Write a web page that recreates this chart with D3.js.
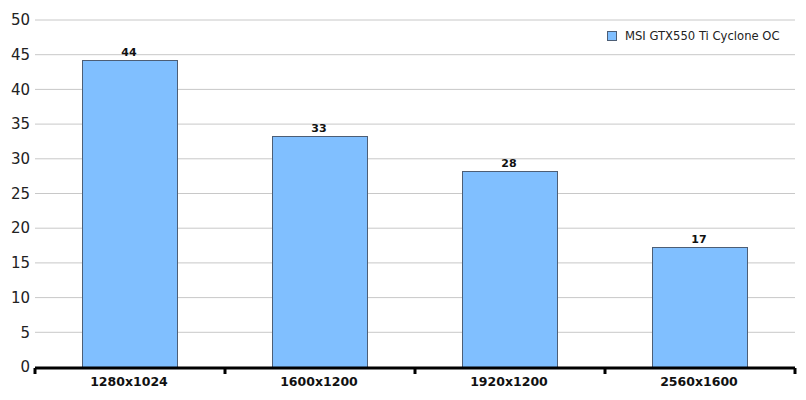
<!DOCTYPE html>
<meta charset="utf-8">
<head>
<script src="https://d3js.org/d3.v7.min.js"></script>
<style>
  body { margin: 0; background: #fff; }
  text { font-family: "DejaVu Sans", Verdana, sans-serif; }
</style>
</head>
<body>
<div id="chart"></div>
<script>
// chart data
var resolutions = ["1280x1024", "1600x1200", "1920x1200", "2560x1600"];
var fps = [44.2, 33.3, 28.2, 17.3];
var seriesName = "MSI GTX550 Ti Cyclone OC";
var yTicks = [0, 5, 10, 15, 20, 25, 30, 35, 40, 45, 50];

var W = 806, H = 400;
var margin = {top: 20, right: 11, bottom: 33, left: 35},
    width = W - margin.left - margin.right,
    height = H - margin.top - margin.bottom;

var svg = d3.select("#chart").append("svg")
    .attr("width", W).attr("height", H)
  .append("g")
    .attr("transform", "translate(" + margin.left + "," + margin.top + ")");

var x = d3.scaleBand().domain(resolutions).range([0, width]).paddingInner(0.5).paddingOuter(0.25);
var y = d3.scaleLinear().domain([0, 50]).range([height, 0]);

// gridlines
svg.append("g").selectAll("line")
  .data(yTicks.slice(1))
  .enter().append("line")
    .attr("x1", 0).attr("x2", width)
    .attr("y1", function(d) { return y(d); })
    .attr("y2", function(d) { return y(d); })
    .attr("stroke", "#c8c8c8").attr("stroke-width", 1);

// y labels
svg.append("g").selectAll("text")
  .data(yTicks)
  .enter().append("text")
    .attr("x", -5)
    .attr("y", function(d) { return y(d); })
    .attr("dy", "0.35em")
    .attr("text-anchor", "end")
    .style("font-size", "15px")
    .style("fill", "#222")
    .text(function(d) { return d; });

// bars
svg.append("g").selectAll("rect")
  .data(fps)
  .enter().append("rect")
    .attr("x", function(d, i) { return Math.round(x(resolutions[i])) - 0.5; })
    .attr("y", function(d) { return Math.round(y(d)) + 0.5; })
    .attr("width", Math.round(x.bandwidth()))
    .attr("height", function(d) { return height - Math.round(y(d)); })
    .attr("fill", "#80bfff")
    .attr("stroke", "#4d5e75")
    .attr("stroke-width", 1);

// value labels
svg.append("g").selectAll("text")
  .data(fps)
  .enter().append("text")
    .attr("x", function(d, i) { return x(resolutions[i]) + x.bandwidth() / 2 - 1; })
    .attr("y", function(d) { return y(d) - 4; })
    .attr("text-anchor", "middle")
    .style("font-size", "11px")
    .style("font-weight", "bold")
    .style("fill", "#111")
    .text(function(d) { return Math.round(d); });

// x axis
var xAxis = svg.append("g").attr("transform", "translate(0," + (height + 1) + ")");
xAxis.append("line")
  .attr("x1", 0).attr("x2", width)
  .attr("stroke", "#000").attr("stroke-width", 3);
var step = x.step();
var bounds = d3.range(resolutions.length + 1).map(function(i) { return Math.min(i * step, width); });
xAxis.selectAll("line.tick")
  .data(bounds)
  .enter().append("line")
    .attr("class", "tick")
    .attr("x1", function(d) { return d; }).attr("x2", function(d) { return d; })
    .attr("y1", 0).attr("y2", 6)
    .attr("stroke", "#000").attr("stroke-width", 3);
xAxis.selectAll("text")
  .data(resolutions)
  .enter().append("text")
    .attr("x", function(d) { return x(d) + x.bandwidth() / 2 - 1; })
    .attr("y", 18)
    .attr("text-anchor", "middle")
    .style("font-size", "12.5px")
    .style("font-weight", "bold")
    .style("fill", "#111")
    .text(function(d) { return d; });

// legend
var legend = svg.append("g").attr("transform", "translate(" + (607 - margin.left) + "," + (31 - margin.top) + ")");
legend.append("rect")
  .attr("x", 0.5).attr("y", 0.5).attr("width", 9).attr("height", 9)
  .attr("fill", "#80bfff").attr("stroke", "#4d5e75");
legend.append("text")
  .attr("x", 18).attr("y", 5).attr("dy", "0.35em")
  .style("font-size", "11.6px")
  .style("fill", "#222")
  .text(seriesName);
</script>
</body>
